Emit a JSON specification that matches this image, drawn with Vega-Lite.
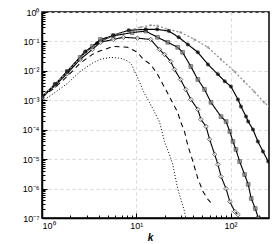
{
"$schema": "https://vega.github.io/schema/vega-lite/v6.json",
"width": 227, "height": 206,
"autosize": {"type": "none"},
"padding": {"left": 42, "top": 12, "right": 5, "bottom": 26},
"config": {"view": {"stroke": "black", "strokeWidth": 1.5}, "font": "Liberation Sans"},
"data": {"values": [
{"s":"a","k":1,"E":9.1e-4},{"s":"a","k":1.38,"E":1.86e-3},{"s":"a","k":1.85,"E":3.7e-3},{"s":"a","k":2.54,"E":9.5e-3},{"s":"a","k":3.42,"E":0.0182},{"s":"a","k":4.16,"E":0.0245},{"s":"a","k":5.3,"E":0.0288},{"s":"a","k":6.8,"E":0.0269},{"s":"a","k":8.3,"E":0.0209},{"s":"a","k":8.9,"E":0.0166},{"s":"a","k":9.6,"E":9.5e-3},{"s":"a","k":10.3,"E":6.0e-3},{"s":"a","k":11.1,"E":3.5e-3},{"s":"a","k":11.9,"E":2.0e-3},{"s":"a","k":14.2,"E":7.2e-4},{"s":"a","k":17.6,"E":1.9e-4},{"s":"a","k":19.9,"E":4.0e-5},{"s":"a","k":22.5,"E":1.45e-5},{"s":"a","k":24.4,"E":6.6e-6},{"s":"a","k":27.5,"E":1.0e-6},{"s":"a","k":32.5,"E":1.66e-7},{"s":"a","k":33.5,"E":1.0e-7},
{"s":"b","k":1,"E":1.26e-3},{"s":"b","k":1.38,"E":2.75e-3},{"s":"b","k":1.85,"E":6.5e-3},{"s":"b","k":2.54,"E":0.0182},{"s":"b","k":3.42,"E":0.0363},{"s":"b","k":4.16,"E":0.0479},{"s":"b","k":5.7,"E":0.0676},{"s":"b","k":8.1,"E":0.0631},{"s":"b","k":10.3,"E":0.0427},{"s":"b","k":11.9,"E":0.0245},{"s":"b","k":14.2,"E":0.0166},{"s":"b","k":16.8,"E":7.6e-3},{"s":"b","k":20.5,"E":2.34e-3},{"s":"b","k":27.5,"E":3.9e-4},{"s":"b","k":29.5,"E":1.9e-4},{"s":"b","k":32.5,"E":8.7e-5},{"s":"b","k":35,"E":3.16e-5},{"s":"b","k":39.9,"E":8.3e-6},{"s":"b","k":45,"E":2.2e-6},{"s":"b","k":51,"E":7.9e-7},{"s":"b","k":57.6,"E":4.3e-7},{"s":"b","k":63,"E":3.1e-7},
{"s":"c","k":1,"E":1.26e-3},{"s":"c","k":1.38,"E":3.2e-3},{"s":"c","k":1.85,"E":8.1e-3},{"s":"c","k":2.54,"E":0.0245},{"s":"c","k":3.42,"E":0.0537},{"s":"c","k":4.16,"E":0.0933},{"s":"c","k":5.7,"E":0.117},{"s":"c","k":7.3,"E":0.138},{"s":"c","k":10.3,"E":0.129},{"s":"c","k":14.2,"E":0.117},{"s":"c","k":17.6,"E":0.0537},{"s":"c","k":19.9,"E":0.0363},{"s":"c","k":23.2,"E":0.0209},{"s":"c","k":25.4,"E":0.0112},{"s":"c","k":29.5,"E":5.1e-3},{"s":"c","k":33.5,"E":2.34e-3},{"s":"c","k":37.9,"E":1.07e-3},{"s":"c","k":45,"E":4.9e-4},{"s":"c","k":48.5,"E":2.24e-4},{"s":"c","k":55,"E":1.29e-4},{"s":"c","k":60,"E":4.7e-5},{"s":"c","k":67.9,"E":1.45e-5},{"s":"c","k":73.5,"E":6.6e-6},{"s":"c","k":79.3,"E":2.57e-6},{"s":"c","k":89.7,"E":1.0e-6},{"s":"c","k":98.3,"E":3.6e-7},{"s":"c","k":111,"E":1.66e-7},{"s":"c","k":120,"E":1.3e-7},
{"s":"d","k":1,"E":1.26e-3},{"s":"d","k":1.38,"E":3.5e-3},{"s":"d","k":1.85,"E":9.5e-3},{"s":"d","k":2.54,"E":0.0288},{"s":"d","k":3.42,"E":0.0676},{"s":"d","k":4.16,"E":0.117},{"s":"d","k":5.7,"E":0.155},{"s":"d","k":9.05,"E":0.2},{"s":"d","k":12.6,"E":0.224},{"s":"d","k":16.8,"E":0.138},{"s":"d","k":21.6,"E":0.0933},{"s":"d","k":27.5,"E":0.0631},{"s":"d","k":31,"E":0.0427},{"s":"d","k":37.9,"E":0.0141},{"s":"d","k":45,"E":5.1e-3},{"s":"d","k":53,"E":2.34e-3},{"s":"d","k":62,"E":8.5e-4},{"s":"d","k":79.3,"E":2.8e-4},{"s":"d","k":89.7,"E":1.9e-4},{"s":"d","k":98.3,"E":8.7e-5},{"s":"d","k":106,"E":4.0e-5},{"s":"d","k":114,"E":2.14e-5},{"s":"d","k":125,"E":8.3e-6},{"s":"d","k":141,"E":3.0e-6},{"s":"d","k":154,"E":1.38e-6},{"s":"d","k":166,"E":4.6e-7},{"s":"d","k":183,"E":2.1e-7},{"s":"d","k":197,"E":1.0e-7},
{"s":"e","k":1,"E":1.35e-3},{"s":"e","k":1.38,"E":3.5e-3},{"s":"e","k":1.85,"E":9.5e-3},{"s":"e","k":2.87,"E":0.0457},{"s":"e","k":3.83,"E":0.0871},{"s":"e","k":5.7,"E":0.162},{"s":"e","k":8.3,"E":0.24},{"s":"e","k":12.6,"E":0.257},{"s":"e","k":16.7,"E":0.257},{"s":"e","k":22.2,"E":0.224},{"s":"e","k":28.2,"E":0.138},{"s":"e","k":35.2,"E":0.0794},{"s":"e","k":45,"E":0.0427},{"s":"e","k":57.6,"E":0.0166},{"s":"e","k":73.5,"E":7.6e-3},{"s":"e","k":86.8,"E":4.4e-3},{"s":"e","k":101,"E":2.95e-3},{"s":"e","k":120,"E":1.07e-3},{"s":"e","k":129,"E":6.2e-4},{"s":"e","k":146,"E":2.8e-4},{"s":"e","k":154,"E":1.9e-4},{"s":"e","k":173,"E":1.02e-4},{"s":"e","k":195,"E":4.0e-5},{"s":"e","k":221,"E":1.82e-5},{"s":"e","k":251,"E":8.3e-6},
{"s":"f","k":1,"E":1.35e-3},{"s":"f","k":1.38,"E":3.5e-3},{"s":"f","k":1.85,"E":9.5e-3},{"s":"f","k":2.87,"E":0.0427},{"s":"f","k":4.16,"E":0.0933},{"s":"f","k":5.7,"E":0.162},{"s":"f","k":8.3,"E":0.24},{"s":"f","k":11.1,"E":0.302},{"s":"f","k":14.2,"E":0.355},{"s":"f","k":16.8,"E":0.339},{"s":"f","k":21.6,"E":0.257},{"s":"f","k":29.5,"E":0.204},{"s":"f","k":41.5,"E":0.117},{"s":"f","k":57.6,"E":0.0631},{"s":"f","k":79.3,"E":0.0245},{"s":"f","k":110,"E":9.5e-3},{"s":"f","k":139,"E":4.4e-3},{"s":"f","k":178,"E":2.0e-3},{"s":"f","k":227,"E":8.5e-4},{"s":"f","k":256,"E":6.2e-4}
]},
"layer": [
{"mark": {"type": "line", "clip": true},
 "encoding": {
  "x": {"field": "k", "type": "quantitative", "scale": {"type": "log", "domain": [1, 256], "nice": false},
   "axis": {"orient": "bottom", "values": [1, 10, 100], "labelExpr": "'10' + ['⁰','¹','²'][round(log(datum.value)/LN10)]", "tickSize": -5, "tickColor": "black", "labelPadding": 8, "labelFontSize": 9, "labelColor": "black", "domainColor": "black", "domainWidth": 1.5, "grid": true, "gridDash": [3, 3], "gridColor": "#d8d8d8", "title": "k", "titleFontStyle": "italic", "titleFontWeight": "bold", "titleFontSize": 10, "titleX": 108, "titlePadding": 2}},
  "y": {"field": "E", "type": "quantitative", "scale": {"type": "log", "domain": [1e-7, 1], "nice": false},
   "axis": {"orient": "left", "values": [1e-7, 1e-6, 1e-5, 1e-4, 1e-3, 1e-2, 1e-1, 1], "labelExpr": "'10' + ['⁰','⁻¹','⁻²','⁻³','⁻⁴','⁻⁵','⁻⁶','⁻⁷'][round(-log(datum.value)/LN10)]", "tickSize": -5, "tickColor": "black", "labelPadding": 8, "labelFontSize": 9, "labelColor": "black", "domainColor": "black", "domainWidth": 1.5, "grid": true, "gridDash": [3, 3], "gridColor": "#d8d8d8", "title": null}},
  "color": {"field": "s", "type": "nominal", "scale": {"domain": ["a","b","c","d","e","f"], "range": ["black","black","black","black","black","#8a8a8a"]}, "legend": null},
  "strokeDash": {"field": "s", "type": "nominal", "scale": {"domain": ["a","b","c","d","e","f"], "range": [[1,2],[5,4],[1,0],[1,0],[1,0],[2,2]]}, "legend": null},
  "strokeWidth": {"field": "s", "type": "nominal", "scale": {"domain": ["a","b","c","d","e","f"], "range": [1,1.2,1,1,1.8,1]}, "legend": null},
  "order": {"field": "k", "type": "quantitative"}
 }},
{"mark": {"type": "point", "opacity": 0},
 "encoding": {
  "x": {"field": "k", "type": "quantitative", "axis": {"orient": "bottom", "values": [2,3,4,5,6,7,8,9,20,30,40,50,60,70,80,90,200], "labels": false, "tickSize": -3, "tickColor": "black", "domain": false, "grid": false, "title": null}},
  "y": {"field": "E", "type": "quantitative", "axis": {"orient": "left", "values": [2e-7,3e-7,4e-7,5e-7,6e-7,7e-7,8e-7,9e-7,2e-6,3e-6,4e-6,5e-6,6e-6,7e-6,8e-6,9e-6,2e-5,3e-5,4e-5,5e-5,6e-5,7e-5,8e-5,9e-5,2e-4,3e-4,4e-4,5e-4,6e-4,7e-4,8e-4,9e-4,2e-3,3e-3,4e-3,5e-3,6e-3,7e-3,8e-3,9e-3,0.02,0.03,0.04,0.05,0.06,0.07,0.08,0.09,0.2,0.3,0.4,0.5,0.6,0.7,0.8,0.9], "labels": false, "tickSize": -3, "tickColor": "black", "domain": false, "grid": false, "title": null}}
 }},
{"transform": [{"filter": "datum.s == 'f'"}],
 "mark": {"type": "point", "shape": "circle", "filled": true, "size": 6, "color": "#8a8a8a", "clip": true},
 "encoding": {"x": {"field": "k", "type": "quantitative", "axis": null}, "y": {"field": "E", "type": "quantitative", "axis": null}}},
{"transform": [{"filter": "datum.s == 'c'"}],
 "mark": {"type": "point", "shape": "diamond", "filled": true, "size": 20, "fill": "white", "stroke": "black", "strokeWidth": 0.8, "clip": true},
 "encoding": {"x": {"field": "k", "type": "quantitative", "axis": null}, "y": {"field": "E", "type": "quantitative", "axis": null}}},
{"transform": [{"filter": "datum.s == 'd'"}],
 "mark": {"type": "point", "shape": "square", "filled": true, "size": 14, "fill": "#808080", "stroke": "black", "strokeWidth": 0.6, "clip": true},
 "encoding": {"x": {"field": "k", "type": "quantitative", "axis": null}, "y": {"field": "E", "type": "quantitative", "axis": null}}},
{"transform": [{"filter": "datum.s == 'e'"}],
 "mark": {"type": "point", "shape": "circle", "filled": true, "size": 16, "color": "black", "clip": true},
 "encoding": {"x": {"field": "k", "type": "quantitative", "axis": null}, "y": {"field": "E", "type": "quantitative", "axis": null}}}
],
"resolve": {"axis": {"x": "independent", "y": "independent"}}
}
